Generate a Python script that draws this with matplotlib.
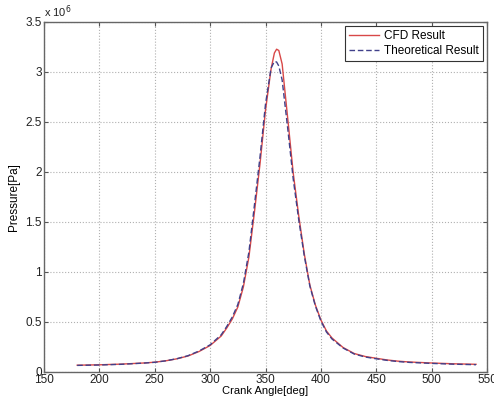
import numpy as np
import matplotlib.pyplot as plt

plt.rcParams['font.family'] = ['Liberation Sans', 'DejaVu Sans']

# crank angle [deg] and pressure [x 1e6 Pa]
angle = [180, 200, 220, 240, 250, 260, 270, 280, 290, 300, 310, 315, 320, 325,
         330, 335, 340, 345, 350, 355, 358, 360, 362, 365, 370, 375, 380, 385,
         390, 395, 400, 405, 410, 420, 430, 440, 450, 460, 470, 480, 500, 520, 540]
cfd = [0.068, 0.072, 0.079, 0.090, 0.098, 0.112, 0.132, 0.160, 0.205, 0.265,
       0.360, 0.440, 0.530, 0.650, 0.850, 1.150, 1.600, 2.080, 2.620, 3.030,
       3.190, 3.228, 3.215, 3.080, 2.540, 1.990, 1.560, 1.180, 0.870, 0.670,
       0.520, 0.410, 0.340, 0.245, 0.185, 0.155, 0.137, 0.120, 0.108, 0.100,
       0.090, 0.082, 0.077]
theory = [0.066, 0.070, 0.077, 0.089, 0.097, 0.112, 0.133, 0.163, 0.210, 0.272,
          0.372, 0.455, 0.550, 0.675, 0.885, 1.200, 1.670, 2.150, 2.680, 3.040,
          3.105, 3.100, 3.060, 2.920, 2.440, 1.930, 1.520, 1.160, 0.860, 0.660,
          0.510, 0.400, 0.330, 0.240, 0.180, 0.150, 0.132, 0.116, 0.104, 0.096,
          0.086, 0.078, 0.073]

fig = plt.figure(figsize=(4.94, 4.0), dpi=100)
ax = fig.add_axes([0.089, 0.07, 0.897, 0.875])

ax.plot(angle, cfd, color='#d84848', linewidth=1.0, label='CFD Result')
ax.plot(angle, theory, color='#40408a', linewidth=1.0, linestyle=(0, (4, 2)),
        label='Theoretical Result')

ax.set_xlim(150, 550)
ax.set_ylim(0, 3.5)
ax.set_xticks(np.arange(150, 551, 50))
ax.set_yticks(np.arange(0, 3.51, 0.5))
ax.set_yticklabels(['0', '0.5', '1', '1.5', '2', '2.5', '3', '3.5'])

ax.grid(True, color='#b0b0b0', linestyle=':', linewidth=0.8)
ax.tick_params(direction='in', top=True, right=True, length=3, labelsize=8.5,
               color='#555555', labelcolor='#222222', pad=1.5)
for s in ax.spines.values():
    s.set_color('#666666')
    s.set_linewidth(1.0)

ax.set_xlabel('Crank Angle[deg]', fontsize=8, labelpad=0)
ax.set_ylabel('Pressure[Pa]', fontsize=8.5, labelpad=4)
ax.text(0.0, 1.005, r'x 10$^6$', transform=ax.transAxes, fontsize=8,
        ha='left', va='bottom', color='#222222')

leg = ax.legend(loc='upper right', fontsize=8.5, fancybox=False, framealpha=1,
                edgecolor='#333333', borderaxespad=0.35, handlelength=2.6,
                handletextpad=0.4, borderpad=0.35, labelspacing=0.25)
leg.get_frame().set_linewidth(0.8)

fig.savefig('out.png', dpi=100)
